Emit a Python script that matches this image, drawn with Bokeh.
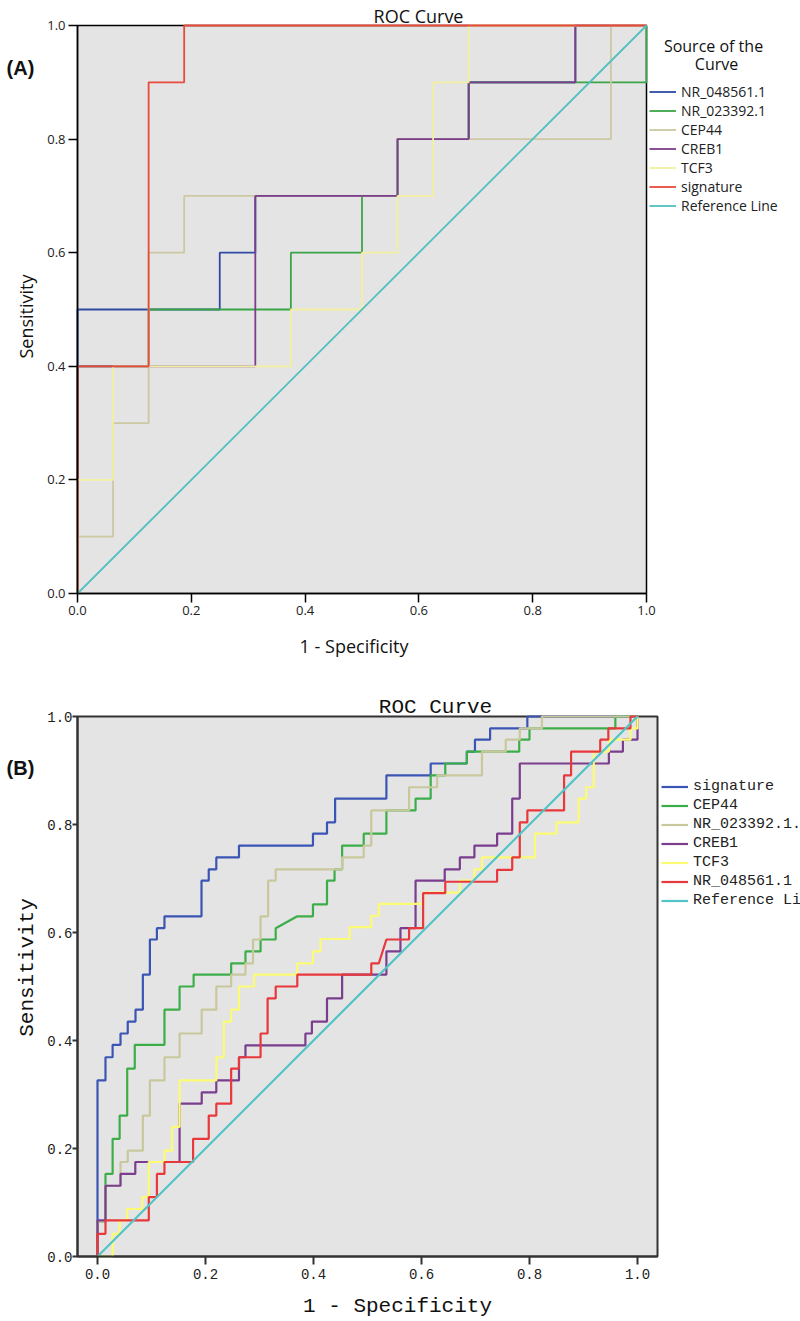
import math
from bokeh.plotting import figure
from bokeh.models import (Range1d, FixedTicker, PrintfTickFormatter, Label, Legend,
                          LegendItem, BoxAnnotation)
from bokeh.layouts import column
from bokeh.embed import file_html
from bokeh.resources import INLINE

# ---------------- data ----------------
tick_values = [0.0, 0.2, 0.4, 0.6, 0.8, 1.0]
ref_line = [0.0, 1.0]

# Panel A (ROC step vertices: 1 - specificity, sensitivity)
a_names = ["NR_048561.1", "NR_023392.1", "CEP44", "CREB1", "TCF3", "signature", "Reference Line"]

a_nr048561_fpr = [0, 0, 0.25, 0.25, 0.3125, 0.3125, 0.5625, 0.5625, 0.6875, 0.6875, 0.875, 0.875, 1.0]
a_nr048561_tpr = [0, 0.5, 0.5, 0.6, 0.6, 0.7, 0.7, 0.8, 0.8, 0.9, 0.9, 1.0, 1.0]

a_nr023392_fpr = [0, 0, 0.125, 0.125, 0.375, 0.375, 0.5, 0.5, 0.5625, 0.5625, 0.6875, 0.6875, 1.0, 1.0]
a_nr023392_tpr = [0, 0.4, 0.4, 0.5, 0.5, 0.6, 0.6, 0.7, 0.7, 0.8, 0.8, 0.9, 0.9, 1.0]

a_cep44_fpr = [0, 0, 0.0625, 0.0625, 0.125, 0.125, 0.1875, 0.1875, 0.5625, 0.5625, 0.9375, 0.9375, 1.0]
a_cep44_tpr = [0, 0.1, 0.1, 0.3, 0.3, 0.6, 0.6, 0.7, 0.7, 0.8, 0.8, 1.0, 1.0]

a_creb1_fpr = [0, 0, 0.3125, 0.3125, 0.5625, 0.5625, 0.6875, 0.6875, 0.875, 0.875, 1.0]
a_creb1_tpr = [0, 0.4, 0.4, 0.7, 0.7, 0.8, 0.8, 0.9, 0.9, 1.0, 1.0]

a_tcf3_fpr = [0, 0, 0.0625, 0.0625, 0.375, 0.375, 0.5, 0.5, 0.5625, 0.5625, 0.625, 0.625, 0.6875, 0.6875, 1.0]
a_tcf3_tpr = [0, 0.2, 0.2, 0.4, 0.4, 0.5, 0.5, 0.6, 0.6, 0.7, 0.7, 0.9, 0.9, 1.0, 1.0]

a_signature_fpr = [0, 0, 0.125, 0.125, 0.1875, 0.1875, 1.0]
a_signature_tpr = [0, 0.4, 0.4, 0.9, 0.9, 1.0, 1.0]

# Panel B (legend texts as visible in the figure, cut at its right edge)
b_names = ["signature", "CEP44", "NR_023392.1.", "CREB1", "TCF3", "NR_048561.1", "Reference Li"]

b_signature_fpr = [0, 0, 0.0148, 0.0148, 0.028, 0.028, 0.0426, 0.0426, 0.056, 0.056, 0.0704, 0.0704,
                   0.084, 0.084, 0.097, 0.097, 0.11, 0.11, 0.124, 0.124, 0.1926, 0.1926, 0.206, 0.206,
                   0.22, 0.22, 0.262, 0.262, 0.399, 0.399, 0.425, 0.425, 0.44, 0.44, 0.535, 0.535,
                   0.617, 0.617, 0.684, 0.684, 0.699, 0.699, 0.727, 0.727, 0.796, 0.796, 1.0]
b_signature_tpr = [0, 0.326, 0.326, 0.369, 0.369, 0.392, 0.392, 0.413, 0.413, 0.435, 0.435, 0.457,
                   0.457, 0.522, 0.522, 0.587, 0.587, 0.608, 0.608, 0.63, 0.63, 0.696, 0.696, 0.717,
                   0.717, 0.739, 0.739, 0.761, 0.761, 0.783, 0.783, 0.804, 0.804, 0.848, 0.848, 0.891,
                   0.891, 0.913, 0.913, 0.935, 0.935, 0.957, 0.957, 0.978, 0.978, 1.0, 1.0]

b_cep44_fpr = [0, 0, 0.0148, 0.0148, 0.028, 0.028, 0.041, 0.041, 0.055, 0.055, 0.069, 0.069, 0.124, 0.124,
               0.152, 0.152, 0.178, 0.178, 0.2475, 0.2475, 0.274, 0.274, 0.302, 0.302, 0.33, 0.33, 0.37,
               0.399, 0.399, 0.425, 0.425, 0.439, 0.439, 0.453, 0.453, 0.493, 0.493, 0.535, 0.535,
               0.589, 0.589, 0.617, 0.617, 0.644, 0.644, 0.684, 0.684, 0.781, 0.781, 0.80, 0.80,
               0.959, 0.959, 1.0]
b_cep44_tpr = [0, 0.065, 0.065, 0.153, 0.153, 0.218, 0.218, 0.261, 0.261, 0.348, 0.348, 0.392, 0.392, 0.457,
               0.457, 0.5, 0.5, 0.522, 0.522, 0.543, 0.543, 0.565, 0.565, 0.587, 0.587, 0.608, 0.63,
               0.63, 0.652, 0.652, 0.696, 0.696, 0.717, 0.717, 0.761, 0.761, 0.783, 0.783, 0.826,
               0.826, 0.848, 0.848, 0.891, 0.891, 0.913, 0.913, 0.935, 0.935, 0.957, 0.957, 0.978,
               0.978, 1.0, 1.0]

b_nr023392_fpr = [0, 0, 0.0148, 0.0148, 0.0426, 0.0426, 0.056, 0.056, 0.084, 0.084, 0.097, 0.097, 0.124,
                  0.124, 0.152, 0.152, 0.193, 0.193, 0.22, 0.22, 0.2475, 0.2475, 0.274, 0.274, 0.288,
                  0.288, 0.302, 0.302, 0.316, 0.316, 0.33, 0.33, 0.453, 0.453, 0.493, 0.493, 0.507,
                  0.507, 0.577, 0.577, 0.629, 0.629, 0.712, 0.712, 0.756, 0.756, 0.782, 0.782, 0.823,
                  0.823, 1.0]
b_nr023392_tpr = [0, 0.065, 0.065, 0.131, 0.131, 0.175, 0.175, 0.196, 0.196, 0.261, 0.261, 0.326, 0.326,
                  0.369, 0.369, 0.413, 0.413, 0.457, 0.457, 0.5, 0.5, 0.522, 0.522, 0.543, 0.543,
                  0.587, 0.587, 0.63, 0.63, 0.696, 0.696, 0.717, 0.717, 0.739, 0.739, 0.761, 0.761,
                  0.826, 0.826, 0.869, 0.869, 0.891, 0.891, 0.935, 0.935, 0.957, 0.957, 0.978, 0.978,
                  1.0, 1.0]

b_creb1_fpr = [0, 0, 0.0148, 0.0148, 0.0426, 0.0426, 0.070, 0.070, 0.152, 0.152, 0.193, 0.193, 0.22, 0.22,
               0.262, 0.262, 0.274, 0.274, 0.385, 0.385, 0.397, 0.397, 0.425, 0.425, 0.453, 0.453,
               0.535, 0.535, 0.561, 0.561, 0.589, 0.589, 0.643, 0.643, 0.671, 0.671, 0.698, 0.698,
               0.74, 0.74, 0.768, 0.768, 0.782, 0.782, 0.947, 0.947, 0.973, 0.973, 1.0, 1.0]
b_creb1_tpr = [0, 0.067, 0.067, 0.131, 0.131, 0.153, 0.153, 0.175, 0.175, 0.283, 0.283, 0.304, 0.304, 0.326,
               0.326, 0.369, 0.369, 0.391, 0.391, 0.413, 0.413, 0.435, 0.435, 0.478, 0.478, 0.522,
               0.522, 0.565, 0.565, 0.608, 0.608, 0.696, 0.696, 0.717, 0.717, 0.739, 0.739, 0.761,
               0.761, 0.783, 0.783, 0.848, 0.848, 0.913, 0.913, 0.935, 0.935, 0.957, 0.957, 1.0]

b_tcf3_fpr = [0, 0.028, 0.028, 0.041, 0.041, 0.055, 0.055, 0.083, 0.083, 0.095, 0.095, 0.124, 0.124, 0.138,
              0.138, 0.152, 0.152, 0.22, 0.22, 0.234, 0.234, 0.2475, 0.2475, 0.262, 0.262, 0.29, 0.29,
              0.37, 0.37, 0.399, 0.399, 0.413, 0.413, 0.467, 0.467, 0.507, 0.507, 0.521, 0.521, 0.603,
              0.603, 0.671, 0.671, 0.698, 0.698, 0.712, 0.712, 0.81, 0.81, 0.85, 0.85, 0.891, 0.891,
              0.905, 0.905, 0.919, 0.919, 0.947, 0.947, 0.987, 0.987, 1.0, 1.0]
b_tcf3_tpr = [0, 0, 0.042, 0.042, 0.067, 0.067, 0.088, 0.088, 0.11, 0.11, 0.175, 0.175, 0.196, 0.196,
              0.24, 0.24, 0.326, 0.326, 0.369, 0.369, 0.435, 0.435, 0.457, 0.457, 0.5, 0.5, 0.522,
              0.522, 0.543, 0.543, 0.565, 0.565, 0.588, 0.588, 0.61, 0.61, 0.631, 0.631, 0.653, 0.653,
              0.674, 0.674, 0.696, 0.696, 0.717, 0.717, 0.739, 0.739, 0.783, 0.783, 0.804, 0.804, 0.848,
              0.848, 0.869, 0.869, 0.935, 0.935, 0.957, 0.957, 0.978, 0.978, 1.0]

b_nr048561_fpr = [0, 0, 0.0148, 0.0148, 0.095, 0.095, 0.11, 0.11, 0.124, 0.124, 0.177, 0.177, 0.206, 0.206,
                  0.22, 0.22, 0.2475, 0.2475, 0.262, 0.262, 0.302, 0.302, 0.315, 0.315, 0.33, 0.33, 0.37,
                  0.37, 0.507, 0.507, 0.521, 0.535, 0.577, 0.577, 0.603, 0.603, 0.644, 0.644, 0.74, 0.74,
                  0.768, 0.768, 0.782, 0.782, 0.796, 0.796, 0.864, 0.864, 0.877, 0.877, 0.931, 0.931,
                  0.946, 0.946, 0.987, 0.987, 1.0]
b_nr048561_tpr = [0, 0.042, 0.042, 0.067, 0.067, 0.11, 0.11, 0.153, 0.153, 0.175, 0.175, 0.218, 0.218, 0.261,
                  0.261, 0.283, 0.283, 0.348, 0.348, 0.369, 0.369, 0.413, 0.413, 0.478, 0.478, 0.5, 0.5,
                  0.522, 0.522, 0.543, 0.543, 0.587, 0.587, 0.608, 0.608, 0.673, 0.673, 0.694, 0.694, 0.716,
                  0.716, 0.739, 0.739, 0.804, 0.804, 0.826, 0.826, 0.891, 0.891, 0.935, 0.935, 0.957,
                  0.957, 0.978, 0.978, 1.0, 1.0]

# ---------------- styling ----------------
a_colors = ["#2f4aa3", "#3aa547", "#cbc8a2", "#7d3d8a", "#f3efa0", "#e84a3c", "#52bfc0"]
b_colors = ["#3a55b4", "#3cae49", "#c9c89c", "#7b3d8e", "#fbfb74", "#e8383b", "#52c4c6"]
BG = "#e4e4e4"
W = 800
HA, HB = 670, 651


def base_fig(h, xr, yr):
    p = figure(width=W, height=h, x_range=Range1d(*xr), y_range=Range1d(*yr),
               output_backend="svg", toolbar_location=None,
               min_border_left=0, min_border_right=0, min_border_top=0, min_border_bottom=0,
               background_fill_color="white", border_fill_color="white",
               outline_line_color=None)
    p.title.visible = False
    p.grid.visible = False
    return p


def style_axes(p, font, size, line_color, line_width, tick_out, standoff, xloc, yloc, xbounds):
    xa, ya = p.xaxis[0], p.yaxis[0]
    xa.fixed_location = xloc
    ya.fixed_location = yloc
    xa.bounds = xbounds
    ya.bounds = (0, 1)
    for ax in (xa, ya):
        ax.ticker = FixedTicker(ticks=tick_values)
        ax.formatter = PrintfTickFormatter(format="%.1f")
        ax.minor_tick_line_color = None
        ax.major_tick_in = 0
        ax.major_tick_out = tick_out
        ax.major_tick_line_width = line_width
        ax.major_tick_line_color = line_color
        ax.axis_line_color = line_color
        ax.axis_line_width = line_width
        ax.major_label_text_font = font
        ax.major_label_text_font_size = size
        ax.major_label_text_color = "#222222"
        ax.major_label_standoff = standoff


# ---------------- panel A ----------------
def ax_(X):
    return (X - 77) / 569.0


def ay_(Y):
    return (593 - Y) / 568.0


pa = base_fig(HA, (ax_(0), ax_(W)), (ay_(HA), ay_(0)))
pa.add_layout(BoxAnnotation(left=0, right=1, bottom=0, top=1, fill_color=BG, fill_alpha=1,
                            line_color="black", line_alpha=1, line_width=1.5, level="underlay"))
style_axes(pa, "Open Sans", "13px", "black", 1.5, 9, 3, 0, 0, (0, 1))

a_series = [(a_nr048561_fpr, a_nr048561_tpr), (a_nr023392_fpr, a_nr023392_tpr),
            (a_cep44_fpr, a_cep44_tpr), (a_creb1_fpr, a_creb1_tpr),
            (a_tcf3_fpr, a_tcf3_tpr), (a_signature_fpr, a_signature_tpr),
            (ref_line, ref_line)]
a_items = []
for (xs, ys), name, col in zip(a_series, a_names, a_colors):
    r = pa.line(xs, ys, line_color=col, line_width=1.8)
    a_items.append(LegendItem(label=name, renderers=[r]))

leg_a = Legend(items=a_items, location=(649, HA - 215), padding=0, margin=0, spacing=0,
               glyph_width=27, glyph_height=19, label_height=19, label_standoff=5,
               label_text_font="Open Sans", label_text_font_size="14px",
               label_text_color="#222222", background_fill_alpha=0, border_line_alpha=0)
pa.add_layout(leg_a)

TXT = "#111111"
pa.add_layout(Label(x=ax_(418), y=ay_(15), text="ROC Curve", text_font="Open Sans",
                    text_font_size="18px", text_align="center", text_baseline="alphabetic",
                    text_color=TXT))
pa.add_layout(Label(x=ax_(353.5), y=ay_(645), text="1 - Specificity", text_font="Open Sans",
                    text_font_size="18px", text_align="center", text_baseline="middle",
                    text_color=TXT))
pa.add_layout(Label(x=ax_(25.5), y=ay_(316), text="Sensitivity", text_font="Open Sans",
                    text_font_size="18px", text_align="center", text_baseline="middle",
                    angle=math.pi / 2, text_color=TXT))
pa.add_layout(Label(x=ax_(20), y=ay_(67), text="(A)", text_font="Liberation Sans",
                    text_font_size="20px", text_font_style="bold", text_align="center",
                    text_baseline="middle", text_color=TXT))
pa.add_layout(Label(x=ax_(713), y=ay_(45), text="Source of the", text_font="Open Sans",
                    text_font_size="16px", text_align="center", text_baseline="middle",
                    text_color=TXT))
pa.add_layout(Label(x=ax_(716), y=ay_(63.5), text="Curve", text_font="Open Sans",
                    text_font_size="16px", text_align="center", text_baseline="middle",
                    text_color=TXT))


# ---------------- panel B ----------------
def bx_(X):
    return (X - 97) / 540.0


def by_(Y):
    return (1256 - Y) / 540.0


B0 = 670  # page y where panel B starts
pb = base_fig(HB, (bx_(0), bx_(W)), (by_(B0 + HB), by_(B0)))
x_lo, x_hi = bx_(77), bx_(657)
pb.add_layout(BoxAnnotation(left=x_lo, right=x_hi, bottom=0, top=1, fill_color=BG, fill_alpha=1,
                            line_color="#333333", line_alpha=1, line_width=2, level="underlay"))
style_axes(pb, "Liberation Mono", "14px", "#333333", 2, 8, 4, 0, x_lo, (x_lo, x_hi))
pb.yaxis[0].major_tick_out = 5
pb.yaxis[0].major_label_standoff = 0

b_series = [(b_signature_fpr, b_signature_tpr), (b_cep44_fpr, b_cep44_tpr),
            (b_nr023392_fpr, b_nr023392_tpr), (b_creb1_fpr, b_creb1_tpr),
            (b_tcf3_fpr, b_tcf3_tpr), (b_nr048561_fpr, b_nr048561_tpr),
            (ref_line, ref_line)]
b_items = []
for (xs, ys), name, col in zip(b_series, b_names, b_colors):
    r = pb.line(xs, ys, line_color=col, line_width=2.2)
    b_items.append(LegendItem(label=name, renderers=[r]))

leg_b = Legend(items=b_items, location=(661, HB - (909.5 - B0)), padding=0, margin=0, spacing=0,
               glyph_width=27, glyph_height=19, label_height=19, label_standoff=5,
               label_text_font="Liberation Mono", label_text_font_size="15px",
               label_text_color="#222222", background_fill_alpha=0, border_line_alpha=0)
pb.add_layout(leg_b)

pb.add_layout(Label(x=bx_(435), y=by_(707), text="ROC Curve", text_font="Liberation Mono",
                    text_font_size="21px", text_align="center", text_baseline="alphabetic",
                    text_color=TXT))
pb.add_layout(Label(x=bx_(397), y=by_(1306), text="1 - Specificity", text_font="Liberation Mono",
                    text_font_size="21px", text_align="center", text_baseline="middle",
                    text_color=TXT))
pb.add_layout(Label(x=bx_(27), y=by_(967), text="Sensitivity", text_font="Liberation Mono",
                    text_font_size="21px", text_align="center", text_baseline="middle",
                    angle=math.pi / 2, text_color=TXT))
pb.add_layout(Label(x=bx_(20), y=by_(767), text="(B)", text_font="Liberation Sans",
                    text_font_size="20px", text_font_style="bold", text_align="center",
                    text_baseline="middle", text_color=TXT))

p = column(pa, pb, spacing=0)

open("out.html", "w").write(file_html(p, INLINE))
